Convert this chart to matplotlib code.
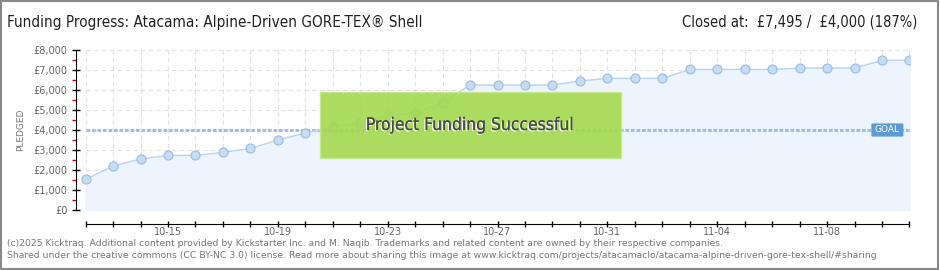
import datetime as dt
import matplotlib
matplotlib.use("Agg")
from matplotlib import pyplot as plt
import matplotlib.patheffects as pe
from matplotlib.patches import Rectangle, FancyBboxPatch
from matplotlib.ticker import MultipleLocator, FuncFormatter

# data
start_date = dt.date(2025, 10, 12)
pledged = [1535, 2200, 2550, 2730, 2730, 2880, 3080, 3500, 3850, 4130,
           4370, 4700, 4870, 5370, 6250, 6250, 6250, 6250, 6450, 6580,
           6580, 6580, 7030, 7030, 7030, 7030, 7100, 7100, 7100, 7480, 7495]
goal = 4000
days = list(range(len(pledged)))
date_labels = [(start_date + dt.timedelta(days=d)).strftime("%m-%d") for d in days]

title = "Funding Progress: Atacama: Alpine-Driven GORE-TEX\u00ae Shell"
status = "Closed at:  \u00a37,495 /  \u00a34,000 (187%)"
banner = "Project Funding Successful"
footer = ["(c)2025 Kicktraq. Additional content provided by Kickstarter Inc. and M. Naqib. "
          "Trademarks and related content are owned by their respective companies.",
          "Shared under the creative commons (CC BY-NC 3.0) license. Read more about sharing "
          "this image at www.kicktraq.com/projects/atacamaclo/atacama-alpine-driven-gore-tex-shell/#sharing"]

fig = plt.figure(figsize=(9.4, 2.7), dpi=100)
fig.patch.set_facecolor("white")
fig.add_artist(Rectangle((0.001, 0.003), 0.997, 0.994, transform=fig.transFigure,
                         fill=False, edgecolor="#8a8a8a", linewidth=1.5))

ax = fig.add_axes([76 / 940, 1 - 210 / 270, (910 - 76) / 940, 160 / 270])
ax.set_xlim(-0.35, 30.02)
ax.set_ylim(0, 8000)

# grid
for d in days:
    ax.plot([d, d], [0, 8000], color="#e1e1e1", linewidth=0.8, linestyle=(0, (4, 3)), zorder=0)
for v in range(1000, 8001, 1000):
    ax.plot([0, days[-1]], [v, v], color="#e1e1e1", linewidth=0.8, linestyle=(0, (4, 3)), zorder=0)

ax.fill_between(days, pledged, 0, color="#edf4fd", zorder=1)
ax.plot(days, pledged, color="#b9d5f2", linewidth=1, zorder=3)
ax.plot(days, pledged, linestyle="none", marker="o", markersize=6.5,
        markerfacecolor="#c4dcf6", markeredgecolor="#9bbce0", markeredgewidth=0.8, zorder=4)

# goal line
ax.plot([0, days[-1]], [goal, goal], color="#9ec0e6", linewidth=2.2,
        linestyle=(0, (1.2, 0.6)), zorder=2)
gx0 = (872 - 85.7) / 27.48
gw = 32 / 27.48
ax.add_patch(FancyBboxPatch((gx0, goal - 330), gw, 660, boxstyle="round,pad=0,rounding_size=0.08",
                            facecolor="#5d9ad8", edgecolor="none", zorder=6,
                            mutation_aspect=400))
ax.text(gx0 + gw / 2, goal + 20, "GOAL", color="white", fontsize=6.5, ha="center", va="center",
        zorder=7)

# success banner
x0 = (320 - 85.7) / 27.48
x1 = (621 - 85.7) / 27.48
ax.add_patch(Rectangle((x0, (210 - 158) * 50), x1 - x0, (158 - 92) * 50,
                       facecolor="#a2d94a", edgecolor="#c4e88a", linewidth=1,
                       alpha=0.88, zorder=5))
ax.text((x0 + x1) / 2, (210 - 125) * 50, banner, ha="center", va="center",
        fontsize=12.5, color="#4a4a4a", family="DejaVu Sans", stretch="condensed", zorder=6,
        path_effects=[pe.withSimplePatchShadow(offset=(-1, -1), shadow_rgbFace="white", alpha=0.9),
                      pe.Normal()])

# axes styling
for s in ["top", "right"]:
    ax.spines[s].set_visible(False)
ax.spines["left"].set_color("black")
ax.spines["bottom"].set_position(("outward", 10))
ax.spines["bottom"].set_bounds(0, days[-1])
ax.set_facecolor("none")

ax.yaxis.set_major_locator(MultipleLocator(1000))
ax.yaxis.set_minor_locator(MultipleLocator(500))
ax.yaxis.set_major_formatter(FuncFormatter(lambda v, p: "\u00a3{:,.0f}".format(v)))
ax.tick_params(axis="y", which="major", direction="inout", length=6, width=1, color="black",
               labelsize=7, labelcolor="#666666", pad=3)
ax.tick_params(axis="y", which="minor", direction="out", length=3, width=1, color="#e00000")

ax.set_xticks(days)
ax.set_xticklabels([lab if (d - 3) % 4 == 0 else "" for d, lab in zip(days, date_labels)])
ax.tick_params(axis="x", which="major", direction="inout", length=4.5, width=1, color="black",
               labelsize=7, labelcolor="#666666", pad=0)
ax.set_ylabel("PLEDGED", fontsize=6.5, color="#777777", labelpad=6)

fig.text(7 / 940, 1 - 22 / 270, title, fontsize=11, color="#222222", va="center",
         family="DejaVu Sans", stretch="condensed")
fig.text(917 / 940, 1 - 22 / 270, status, fontsize=10.5, color="#222222", va="center", ha="right",
         family="DejaVu Sans", stretch="condensed")
fig.text(7 / 940, 1 - 243 / 270, footer[0], fontsize=6.7, color="#777777", va="center")
fig.text(7 / 940, 1 - 256 / 270, footer[1], fontsize=6.7, color="#777777", va="center")

fig.savefig("out.png", dpi=100)
